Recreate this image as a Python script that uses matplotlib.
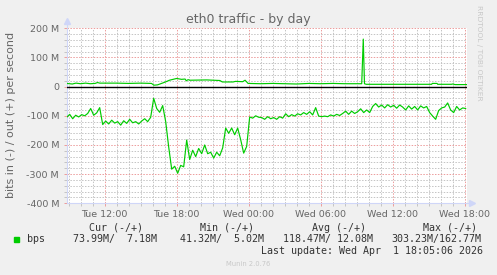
import numpy as np
import matplotlib
matplotlib.use('Agg')
import matplotlib.pyplot as plt
from matplotlib.ticker import MultipleLocator, FixedLocator, FixedFormatter

# hours since Tue 00:00; inbound sampled every 15 minutes from the left edge
t_start = 8.833
t_end = 42.17
step = 0.25

in_mbps = [
    -105, -95, -110, -98, -104, -96, -100, -92, -75, -98,
    -90, -72, -130, -118, -128, -115, -125, -120, -132, -117,
    -126, -112, -124, -120, -128, -118, -110, -120, -105, -40,
    -75, -88, -65, -120, -207, -283, -273, -297, -270, -275,
    -183, -250, -218, -240, -212, -230, -200, -230, -225, -245,
    -225, -237, -210, -142, -160, -142, -165, -142, -182, -228,
    -205, -104, -108, -100, -105, -106, -112, -103, -110, -106,
    -112, -103, -108, -93, -103, -96, -101, -93, -97, -89,
    -95, -86, -97, -72, -101, -103, -101, -103, -97, -101,
    -95, -99, -92, -84, -95, -84, -92, -86, -76, -89,
    -80, -89, -68, -58, -70, -63, -73, -62, -70, -64,
    -74, -63, -70, -80, -66, -77, -68, -80, -66, -73,
    -68, -89, -101, -112, -82, -73, -70, -56, -80, -89,
    -68, -80, -73, -75,
]

out_hours = [
    8.83, 9.3, 9.6, 10.0, 10.4, 10.8, 11.2, 11.4, 11.6, 13.0,
    14.0, 15.0, 15.9, 16.1, 16.4, 16.6, 17.0, 17.4, 17.7, 18.0,
    18.4, 18.7, 18.8, 18.95, 19.1, 20.5, 21.6, 21.8, 22.7, 22.9,
    23.5, 23.7, 23.95, 25.0, 26.0, 27.0, 28.0, 29.0, 30.0, 31.0,
    32.0, 33.42, 33.55, 33.65, 33.8, 36.0, 39.25, 39.3, 39.7, 39.75,
    40.9, 41.0, 41.2, 42.17,
]
out_mbps = [
    11, 9, 12, 10, 12, 10, 11, 14, 12, 12,
    11, 12, 11, 5, 6, 9, 15, 22, 25, 28,
    25, 26, 20, 24, 22, 23, 21, 16, 16, 18,
    17, 22, 11, 10, 11, 10, 9, 11, 10, 11,
    10, 10, 163, 10, 8, 8, 8, 11, 11, 8,
    8, 9, 7, 7,
]

x_ticks = [12, 18, 24, 30, 36, 42]
x_labels = ['Tue 12:00', 'Tue 18:00', 'Wed 00:00', 'Wed 06:00', 'Wed 12:00', 'Wed 18:00']
y_ticks = [-400, -300, -200, -100, 0, 100, 200]
y_labels = ['-400 M', '-300 M', '-200 M', '-100 M', '0', '100 M', '200 M']

legend_cols = ['Cur (-/+)', 'Min (-/+)', 'Avg (-/+)', 'Max (-/+)']
legend_vals = ['73.99M/  7.18M', '41.32M/  5.02M', '118.47M/ 12.08M', '303.23M/162.77M']

W, H = 497, 275
FONT = '#666666'
AXIS = '#CFD6F8'
GREEN = '#00CC00'
GRID = '#C4C4C4'
MGRID = '#EC9C9C'


def fx(x):
    return x / W


def fy(y):
    return 1 - y / H


def main():
    fig = plt.figure(figsize=(W / 100, H / 100), dpi=100, facecolor='#F0F0F0')
    ax = fig.add_axes([fx(66.7), fy(203.3), 400 / W, 175 / H])
    ax.set_facecolor('white')

    t_in = t_start + step * np.arange(len(in_mbps))
    ax.plot(t_in, in_mbps, color=GREEN, lw=0.85, zorder=3)
    ax.plot(out_hours, out_mbps, color=GREEN, lw=0.85, zorder=3)
    ax.axhline(0, color='black', lw=1.0, zorder=4)

    ax.set_xlim(t_start, t_end)
    ax.set_ylim(-400, 200)

    ax.xaxis.set_major_locator(FixedLocator(x_ticks))
    ax.xaxis.set_major_formatter(FixedFormatter(x_labels))
    ax.xaxis.set_minor_locator(MultipleLocator(1))
    ax.yaxis.set_major_locator(FixedLocator(y_ticks))
    ax.yaxis.set_major_formatter(FixedFormatter(y_labels))
    ax.yaxis.set_minor_locator(MultipleLocator(20))

    ax.set_axisbelow(True)
    ax.grid(which='minor', color=GRID, lw=0.7, ls=(0, (1.5, 1.5)))
    ax.grid(which='major', color=MGRID, lw=0.7, ls=(0, (1.5, 1.5)))

    ax.tick_params(which='major', length=2, width=0.7, color=MGRID,
                   labelsize=6.8, labelcolor=FONT)
    ax.tick_params(which='minor', length=2, width=0.7, color=GRID)
    ax.tick_params(axis='x', which='major', pad=2.5)
    ax.tick_params(axis='y', which='major', pad=3.5)

    for s in ['top', 'right']:
        ax.spines[s].set_visible(False)
    for s in ['left', 'bottom']:
        ax.spines[s].set_color(AXIS)
        ax.spines[s].set_linewidth(0.8)

    # axis arrows
    ax.plot([0, 0], [1, 1.03], color=AXIS, lw=0.8, transform=ax.transAxes, clip_on=False)
    ax.plot([0], [1.04], marker='^', ms=4, color=AXIS, transform=ax.transAxes, clip_on=False)
    ax.plot([1, 1.01], [0, 0], color=AXIS, lw=0.8, transform=ax.transAxes, clip_on=False)
    ax.plot([1.0135], [0], marker='>', ms=4, color=AXIS, transform=ax.transAxes, clip_on=False)

    fig.text(fx(248.5), fy(19), 'eth0 traffic - by day', ha='center', va='center',
             fontsize=9, color=FONT)
    fig.text(fx(10.8), fy(115), 'bits in (-) / out (+) per second', rotation=90,
             ha='center', va='center', fontsize=8, color=FONT)
    fig.text(fx(478.5), fy(53), 'RRDTOOL / TOBI OETIKER', rotation=270,
             ha='center', va='center', fontsize=5.4, color='#C8C8C8')

    mono = dict(family='DejaVu Sans Mono', fontsize=7.2, color='#333333', va='center')
    for x, lab in zip([89, 200.3, 312.3, 423], legend_cols):
        fig.text(fx(x), fy(227.7), lab, ha='left', **mono)
    fig.patches.append(plt.Rectangle((fx(13.7), fy(242.3)), 5.6 / W, 5 / H,
                                     transform=fig.transFigure, color=GREEN))
    fig.text(fx(26.7), fy(239.3), 'bps', ha='left', **mono)
    for x, val in zip([72.7, 180.3, 283.3, 391.7], legend_vals):
        fig.text(fx(x), fy(239.3), val, ha='left', **mono)
    fig.text(fx(483), fy(251), 'Last update: Wed Apr  1 18:05:06 2026', ha='right', **mono)
    fig.text(fx(248), fy(264.3), 'Munin 2.0.76', ha='center', va='center',
             fontsize=4.9, color='#C8C8C8')

    fig.savefig('out.png', dpi=100, facecolor=fig.get_facecolor())


if __name__ == '__main__':
    main()
